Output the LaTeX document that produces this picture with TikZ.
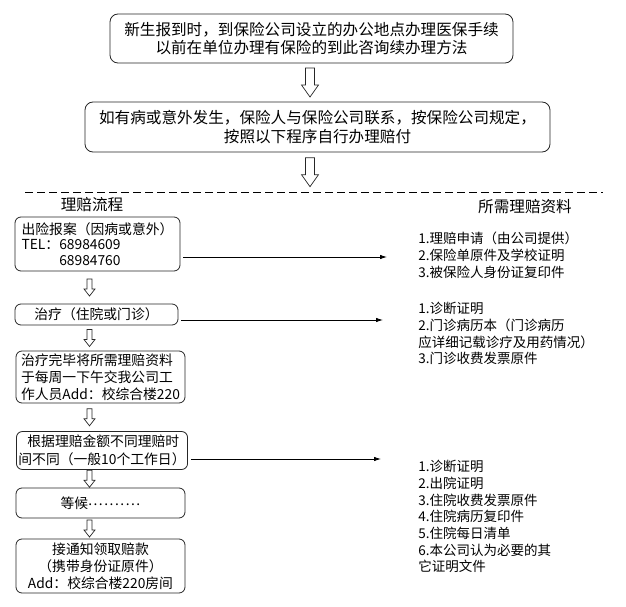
\documentclass[tikz,border=0pt]{standalone}
\usepackage{fontspec}
\setmainfont{Noto Sans CJK SC}
\usetikzlibrary{arrows.meta,calc,positioning}

\newcommand{\hollowarrow}[7]{
\draw[hollow] let \p1=(#1), \p2=(#2), \n1={0.5*(\y1+\y2)+0.5*#4pt}, \n2={\n1-#4pt}, \n3={\n2+#7pt} in
(#3pt-#5pt,\n1) -- (#3pt+#5pt,\n1) -- (#3pt+#5pt,\n3) -- (#3pt+#6pt,\n3) -- (#3pt,\n2)
-- (#3pt-#6pt,\n3) -- (#3pt-#5pt,\n3) -- cycle;}
\newcommand{\bigdown}[2]{\hollowarrow{#1}{#2}{310}{29}{4.5}{8.5}{12}}
\newcommand{\smalldown}[2]{\hollowarrow{#1}{#2}{89.5}{17}{2.5}{5.5}{7}}

\begin{document}
\begin{tikzpicture}[x=1pt ,y=-1pt ,
line width=0.8pt ,
bigbox/.style ={rectangle ,rounded corners=8pt ,draw=black!85 ,inner sep=2pt ,
align=center ,font=\fontsize{15.6}{18.5}\selectfont},
stepbox/.style ={rectangle ,rounded corners=6pt ,draw=black!85 ,inner sep=2pt ,
font=\fontsize{13.8}{17}\selectfont},
title/.style ={inner sep=0pt ,font=\fontsize{15.6}{18.5}\selectfont},
list/.style ={anchor=north west ,inner sep=0pt ,align=left ,
font=\fontsize{13.5}{16.7}\selectfont},
hollow/.style ={draw=black!85 ,fill=white ,line width=0.7pt ,line join=miter},
link/.style ={-{Latex[length=7pt ,width=4.5pt]} ,shorten <=3pt},
rule/.style ={dash pattern=on 8pt off 4pt}]
\useasboundingbox (0,0) rectangle (626,607);

\node[bigbox ,minimum width=403pt ,minimum height=49pt] (1) at (311.5,38.5)
{新生报到时，到保险公司设立的办公地点办理医保手续\\以前在单位办理有保险的到此咨询续办理方法};
\node[bigbox ,minimum width=465pt ,minimum height=50pt] (2) at (317.5,127)
{如有病或意外发生，保险人与保险公司联系，按保险公司规定，\\按照以下程序自行办理赔付};

\coordinate (rule-l) at (25,192);
\coordinate (rule-r) at (603,192);
\draw[rule] (rule-l) -- (rule-r);

\node[title] (h1) at (92,205) {理赔流程};
\node[title] (h2) at (525,207) {所需理赔资料};

\node[stepbox ,minimum width=165pt ,minimum height=54pt ,align=left ,
font=\fontsize{13.8}{15.5}\selectfont] (3) at (97.5,244)
{出险报案（因病或意外）\\TEL：68984609\\\phantom{TEL：}68984760};
\node[stepbox ,minimum width=163pt ,minimum height=21pt] (4) at (96.5,314.5) {治疗（住院或门诊）};
\node[stepbox ,minimum width=169pt ,minimum height=52pt ,align=left] (5) at (100.5,377)
{治疗完毕将所需理赔资料\\于每周一下午交我公司工\\作人员Add：校综合楼220};
\node[stepbox ,minimum width=170pt ,minimum height=38pt ,align=left ,
font=\fontsize{13.8}{18}\selectfont] (6) at (102,450.5)
{\hspace{9pt}根据理赔金额不同理赔时\\间不同（一般10个工作日）};
\node[stepbox ,minimum width=169pt ,minimum height=30pt] (7) at (100.5,503)
{等候\raisebox{2.5pt}{\addfontfeature{LetterSpace=11}..........}\hspace{22pt}};
\node[stepbox ,minimum width=169pt ,minimum height=54pt ,align=center] (8) at (100.5,566)
{接通知领取赔款\\（携带身份证原件）\\Add：校综合楼220房间};

\node[list] (m1) at (418,232) {1.理赔申请（由公司提供）\\2.保险单原件及学校证明\\3.被保险人身份证复印件};
\node[list] (m2) at (418,302) {1.诊断证明\\2.门诊病历本（门诊病历\\应详细记载诊疗及用药情况）\\3.门诊收费发票原件};
\node[list] (m3) at (418,460) {1.诊断证明\\2.出院证明\\3.住院收费发票原件\\4.住院病历复印件\\5.住院每日清单\\6.本公司认为必要的其\\它证明文件};

\bigdown{1.south}{2.north}
\bigdown{2.south}{rule-l}

\smalldown{3.south}{4.north}
\smalldown{4.south}{5.north}
\smalldown{5.south}{6.north}
\smalldown{6.south}{7.north}
\smalldown{7.south}{8.north}

\coordinate (e1) at (387,257);
\coordinate (e2) at (383,320);
\coordinate (e3) at (381,459);
\draw[link] (3.east |- e1) -- (e1);
\draw[link] (4.east |- e2) -- (e2);
\draw[link] (6.east |- e3) -- (e3);
\end{tikzpicture}
\end{document}
